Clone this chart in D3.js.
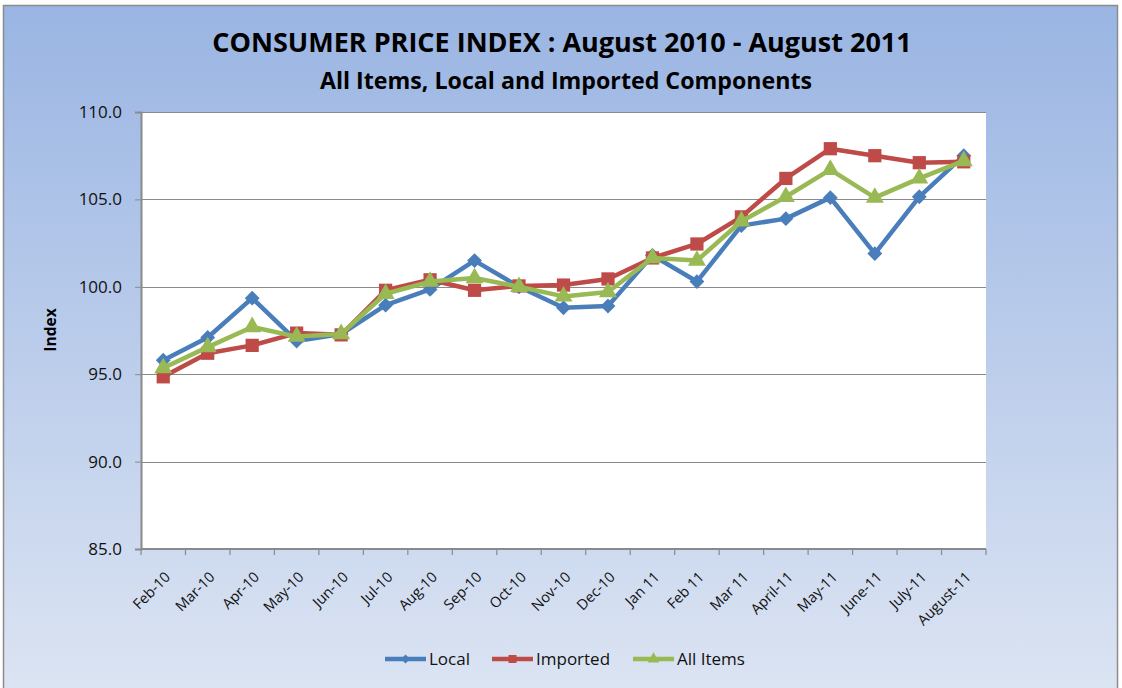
<!DOCTYPE html>
<html>
<head>
<meta charset="utf-8">
<script src="https://cdn.jsdelivr.net/npm/d3@7/dist/d3.min.js"></script>
<style>
  html, body { margin: 0; padding: 0; background: #fff; }
  svg { display: block; font-family: "Open Sans", sans-serif; }
</style>
</head>
<body>
<svg id="chart"></svg>
<script>
var months = ["Feb-10", "Mar-10", "Apr-10", "May-10", "Jun-10", "Jul-10", "Aug-10", "Sep-10", "Oct-10",
  "Nov-10", "Dec-10", "Jan 11", "Feb 11", "Mar 11", "April-11", "May-11", "June-11", "July-11", "August-11"];

var local = [95.8, 97.1, 99.35, 96.9, 97.3, 98.95, 99.85, 101.5, 100.0,
  98.8, 98.9, 101.8, 100.3, 103.5, 103.9, 105.1, 101.9, 105.15, 107.5];
var imported = [94.85, 96.2, 96.65, 97.35, 97.25, 99.8, 100.4, 99.8, 100.05,
  100.1, 100.45, 101.65, 102.45, 104.0, 106.2, 107.9, 107.5, 107.1, 107.15];
var allItems = [95.35, 96.55, 97.7, 97.15, 97.3, 99.6, 100.3, 100.5, 100.0,
  99.45, 99.7, 101.65, 101.5, 103.75, 105.15, 106.7, 105.1, 106.2, 107.2];

var yTicks = [85, 90, 95, 100, 105, 110];

var series = [
  {name: "Local", values: local, color: "#4a7ebb", shape: "diamond"},
  {name: "Imported", values: imported, color: "#be4b48", shape: "square"},
  {name: "All Items", values: allItems, color: "#98b954", shape: "triangle"}
];

var width = 1122;
var height = 688;
var margin = {top: 112, left: 141, right: 136, bottom: 139};

var svg = d3.select("#chart").attr("width", width).attr("height", height);

var defs = svg.append("defs");
var grad = defs.append("linearGradient")
  .attr("id", "bg")
  .attr("x1", 0).attr("y1", 0).attr("x2", 0).attr("y2", 1);
grad.append("stop").attr("offset", "0%").attr("stop-color", "#9ab5e3");
grad.append("stop").attr("offset", "100%").attr("stop-color", "#dde5f3");

// chart background
svg.append("rect")
  .attr("x", 3.5).attr("y", 5.5)
  .attr("width", 1114).attr("height", 700)
  .attr("fill", "url(#bg)")
  .attr("stroke", "#8c8c8c")
  .attr("stroke-width", 1.5);

var x = d3.scaleBand()
  .domain(months)
  .range([margin.left, width - margin.right]);

var y = d3.scaleLinear()
  .domain([85, 110])
  .range([height - margin.bottom, margin.top]);

function cx(m) {
  return x(m) + x.bandwidth() / 2;
}

// plot area
svg.append("rect")
  .attr("x", margin.left).attr("y", margin.top)
  .attr("width", width - margin.left - margin.right)
  .attr("height", height - margin.top - margin.bottom)
  .attr("fill", "#fff");

// gridlines
svg.append("g")
  .selectAll("line")
  .data(yTicks.slice(1))
  .enter()
  .append("line")
  .attr("x1", margin.left)
  .attr("x2", width - margin.right)
  .attr("y1", d => Math.round(y(d)) + 0.5)
  .attr("y2", d => Math.round(y(d)) + 0.5)
  .attr("stroke", "#8a8a8a")
  .attr("stroke-width", 1.2);

// y axis
var yAxis = svg.append("g")
  .attr("transform", "translate(" + margin.left + ",0)")
  .call(d3.axisLeft(y).tickValues(yTicks).tickSize(6).tickPadding(13).tickFormat(d3.format(".1f")));
yAxis.select(".domain").attr("stroke", "#8a8a8a").attr("stroke-width", 2);
yAxis.selectAll(".tick line").attr("stroke", "#8a8a8a");
yAxis.selectAll("text")
  .attr("fill", "#111")
  .style("font-size", "17px")
  .style("font-family", "'Open Sans', sans-serif");

svg.append("text")
  .attr("transform", "translate(56,330) rotate(-90)")
  .attr("text-anchor", "middle")
  .attr("fill", "#000")
  .style("font-size", "15.5px")
  .style("font-weight", "bold")
  .text("Index");

// x axis
var bottomY = height - margin.bottom;
var xAxis = svg.append("g");
xAxis.append("line")
  .attr("x1", margin.left).attr("x2", width - margin.right)
  .attr("y1", bottomY).attr("y2", bottomY)
  .attr("stroke", "#8a8a8a").attr("stroke-width", 2);
xAxis.selectAll(".xtick")
  .data(d3.range(months.length + 1))
  .enter()
  .append("line")
  .attr("class", "xtick")
  .attr("x1", i => margin.left + i * x.bandwidth())
  .attr("x2", i => margin.left + i * x.bandwidth())
  .attr("y1", bottomY)
  .attr("y2", bottomY + 6)
  .attr("stroke", "#8a8a8a")
  .attr("stroke-width", 1.2);
xAxis.selectAll(".xlabel")
  .data(months)
  .enter()
  .append("text")
  .attr("class", "xlabel")
  .attr("text-anchor", "end")
  .attr("transform", d => "translate(" + (cx(d) + 8) + "," + (bottomY + 29) + ") rotate(-45)")
  .attr("fill", "#111")
  .style("font-size", "14.5px")
  .text(d => d);

// markers
function markerPath(shape, big) {
  if (shape === "diamond") return d3.symbol().type(d3.symbolSquare).size(big ? 110 : 40)();
  if (shape === "square") return d3.symbol().type(d3.symbolSquare).size(big ? 175 : 64)();
  return d3.symbol().type(d3.symbolTriangle).size(big ? 140 : 60)();
}

var line = d3.line()
  .x((d, i) => cx(months[i]))
  .y(d => y(d));

series.forEach(s => {
  var g = svg.append("g").attr("class", "series");
  g.append("path")
    .attr("d", line(s.values))
    .attr("fill", "none")
    .attr("stroke", s.color)
    .attr("stroke-width", 4.5)
    .attr("stroke-linejoin", "round");
  g.selectAll("path.mark")
    .data(s.values)
    .enter()
    .append("path")
    .attr("class", "mark")
    .attr("d", markerPath(s.shape, true))
    .attr("transform", (d, i) => "translate(" + cx(months[i]) + "," + y(d) + ")" + (s.shape === "diamond" ? " rotate(45)" : ""))
    .attr("fill", s.color);
});

// titles
svg.append("text")
  .attr("x", 562).attr("y", 52)
  .attr("text-anchor", "middle")
  .attr("fill", "#000")
  .style("font-size", "27px")
  .style("font-weight", "bold")
  .text("CONSUMER PRICE INDEX : August 2010 - August 2011");

svg.append("text")
  .attr("x", 566).attr("y", 89)
  .attr("text-anchor", "middle")
  .attr("fill", "#000")
  .style("font-size", "23.2px")
  .style("font-weight", "bold")
  .text("All Items, Local and Imported Components");

// legend
var legendX = [385, 492, 633];
var legend = svg.append("g").attr("class", "legend");
series.forEach((s, i) => {
  var lg = legend.append("g").attr("transform", "translate(" + legendX[i] + ",659)");
  lg.append("line")
    .attr("x1", 0).attr("x2", 41)
    .attr("stroke", s.color).attr("stroke-width", 4.5);
  lg.append("path")
    .attr("d", markerPath(s.shape, false))
    .attr("transform", "translate(20.5,0)" + (s.shape === "diamond" ? " rotate(45)" : ""))
    .attr("fill", s.color);
  lg.append("text")
    .attr("x", 44).attr("y", 6)
    .attr("fill", "#111")
    .style("font-size", "17px")
    .text(s.name);
});
</script>
</body>
</html>
